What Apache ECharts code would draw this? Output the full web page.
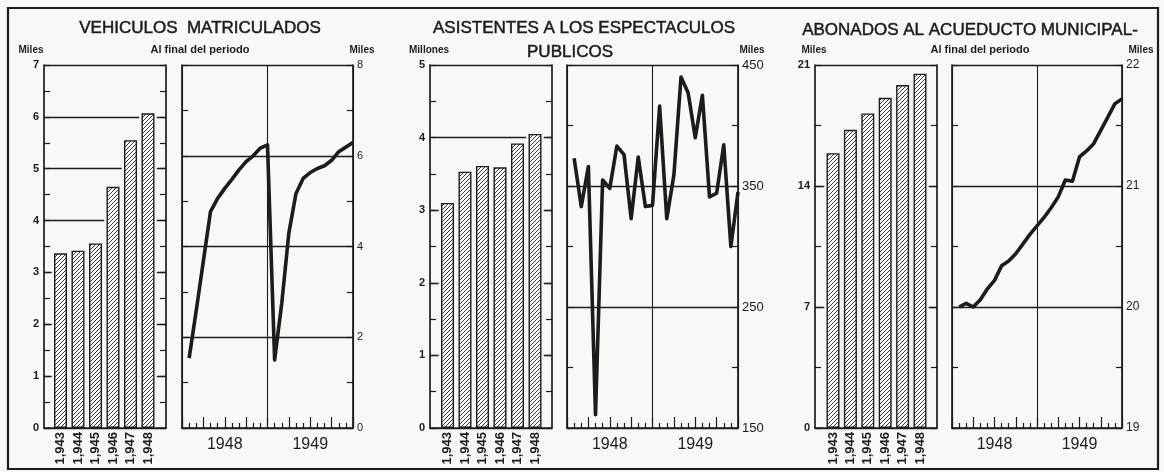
<!DOCTYPE html>
<html><head><meta charset="utf-8">
<script src="https://cdn.jsdelivr.net/npm/echarts@6/dist/echarts.min.js"></script>
<style>html,body{margin:0;padding:0;background:#f8f8f4}#c{width:1164px;height:472px}</style>
</head><body><div id="c"></div>
<script>
// ---------------- data ----------------
const years = ['1,943', '1,944', '1,945', '1,946', '1,947', '1,948'];
const periodYears = ['1948', '1949'];
const months = [1, 2, 3, 4, 5, 6, 7, 8, 9, 10, 11, 12, 13, 14, 15, 16, 17, 18, 19, 20, 21, 22, 23, 24];

const vehBars = [3.37, 3.42, 3.56, 4.65, 5.55, 6.07];
const vehMonthly = [1.54, 2.59, 3.68, 4.77, 5.06, 5.28, 5.48, 5.69, 5.87, 6.0, 6.17, 6.24,
                    1.5, 2.75, 4.3, 5.17, 5.5, 5.63, 5.72, 5.78, 5.9, 6.09, 6.19, 6.29];

const asiBars = [3.10, 3.53, 3.61, 3.59, 3.92, 4.05];
const asiMonthly = [373, 333, 366, 161, 355, 348, 383, 376, 323, 374, 333, 334,
                    416, 323, 359, 440, 427, 390, 425, 341, 344, 384, 300, 345];

const abonBars = [15.9, 17.25, 18.2, 19.1, 19.84, 20.5];
const abonMonthly = [20.0, 20.03, 20.0, 20.06, 20.15, 20.22, 20.34, 20.38, 20.44, 20.52, 20.6, 20.67,
                     20.74, 20.82, 20.91, 21.05, 21.04, 21.24, 21.29, 21.35, 21.46, 21.57, 21.68, 21.72];

// ---------------- style ----------------
const ink = '#1c1c1c';
const bg = '#f8f8f4';
const FF = '"Liberation Sans", Arial, sans-serif';

const hatch = (function () {
  const c = document.createElement('canvas');
  c.width = 4; c.height = 4;
  const g = c.getContext('2d');
  g.fillStyle = '#fbfbf8'; g.fillRect(0, 0, 4, 4);
  g.strokeStyle = '#3a3a3a'; g.lineWidth = 1;
  g.beginPath();
  g.moveTo(-1, 5); g.lineTo(5, -1);
  g.moveTo(-1, 1); g.lineTo(1, -1);
  g.moveTo(3, 5); g.lineTo(5, 3);
  g.stroke();
  return c;
})();

const TOP = 65, H = 363;
const panels = [
  { bars: vehBars, monthly: vehMonthly, frame: [44, 122], narrow: [51.75, 105], line: [182, 171],
    bY: { max: 7, interval: 1, fs: 11 },
    lY: { min: 0, max: 8, interval: 2, minor: true, colors: [ink], fs: 11, fmt: v => String(v) } },
  { bars: asiBars, monthly: asiMonthly, frame: [430, 122], narrow: [438.75, 105], line: [567, 171],
    bY: { max: 5, interval: 1, fs: 11 },
    lY: { min: 150, max: 450, interval: 50, minor: false, colors: [ink, 'rgba(0,0,0,0)'], fs: 13,
          fmt: v => ((v - 150) % 100 === 0 ? String(v) : '') } },
  { bars: abonBars, monthly: abonMonthly, frame: [815, 122], narrow: [824.3, 104.4], line: [952, 170],
    bY: { max: 21, interval: 7, fs: 11 },
    lY: { min: 19, max: 22, interval: 1, minor: true, colors: [ink], fs: 12, fmt: v => String(v) } }
];

const grid = [], xAxis = [], yAxis = [], series = [];
const axLine = { show: true, onZero: false, lineStyle: { color: ink, width: 1.7 } };
const tickStyle = { color: ink, width: 1.2 };

panels.forEach((p, k) => {
  const gi = 4 * k, xi = 5 * k, yi = 6 * k;
  grid.push({ left: p.frame[0], width: p.frame[1], top: TOP, height: H });
  grid.push({ left: p.narrow[0], width: p.narrow[1], top: TOP, height: H });
  grid.push({ left: p.narrow[0], width: p.narrow[1], top: TOP, height: H });
  grid.push({ left: p.line[0], width: p.line[1], top: TOP, height: H });

  // x axes
  xAxis.push({ gridIndex: gi, type: 'value', min: 0, max: 1, z: 5, axisLine: axLine,
    axisTick: { show: false }, axisLabel: { show: false }, splitLine: { show: false } });
  xAxis.push({ gridIndex: gi + 1, type: 'category', data: years, show: false });
  xAxis.push({ gridIndex: gi + 2, type: 'category', data: years,
    axisLine: { show: false }, axisTick: { show: false },
    axisLabel: { rotate: 90, interval: 0, fontSize: 13, fontWeight: 'bold', color: ink, margin: 4, fontFamily: FF } });
  xAxis.push({ gridIndex: gi + 3, type: 'value', min: 0, max: 24, interval: 3, axisLine: axLine,
    axisTick: { show: true, inside: true, length: 11, lineStyle: tickStyle },
    minorTick: { show: true, splitNumber: 3, length: 5, lineStyle: tickStyle },
    axisLabel: { fontSize: 16, color: ink, margin: 9, fontFamily: FF,
      formatter: v => (v % 12 === 6 ? periodYears[(v - 6) / 12] : '') },
    splitLine: { show: false } });
  xAxis.push({ gridIndex: gi + 3, type: 'value', min: 0, max: 24, interval: 12, position: 'bottom',
    axisLine: { show: false }, axisTick: { show: false }, axisLabel: { show: false },
    splitLine: { show: true, lineStyle: { color: ink, width: 1.1 } } });

  // y axes
  const bY = p.bY, lY = p.lY;
  const yLabel = { fontSize: bY.fs, color: ink, margin: 5, fontFamily: FF, fontWeight: 'bold' };
  yAxis.push({ gridIndex: gi, type: 'value', min: 0, max: bY.max, interval: bY.interval, position: 'left',
    axisLine: axLine, axisTick: { show: true, inside: true, length: 6, lineStyle: tickStyle },
    minorTick: { show: true, splitNumber: 2, length: 6, lineStyle: tickStyle },
    axisLabel: yLabel, splitLine: { show: true, lineStyle: { color: ink, width: 1.3 } } });
  yAxis.push({ gridIndex: gi, type: 'value', min: 0, max: bY.max, interval: bY.interval, position: 'right',
    axisLine: axLine, axisTick: { show: true, inside: true, length: 6, lineStyle: tickStyle },
    minorTick: { show: true, splitNumber: 2, length: 6, lineStyle: tickStyle },
    axisLabel: { show: false }, splitLine: { show: false } });
  yAxis.push({ gridIndex: gi + 1, type: 'value', min: 0, max: bY.max, show: false });
  yAxis.push({ gridIndex: gi + 2, type: 'value', min: 0, max: bY.max, show: false });
  const lineTick = { show: true, inside: true, length: 6, lineStyle: tickStyle };
  const lineMinor = { show: lY.minor, splitNumber: 2, length: 6, lineStyle: tickStyle };
  yAxis.push({ gridIndex: gi + 3, type: 'value', min: lY.min, max: lY.max, interval: lY.interval, position: 'left',
    axisLine: axLine, axisTick: lineTick, minorTick: lineMinor, axisLabel: { show: false },
    splitLine: { show: true, lineStyle: { color: lY.colors, width: 1.3 } } });
  yAxis.push({ gridIndex: gi + 3, type: 'value', min: lY.min, max: lY.max, interval: lY.interval, position: 'right',
    axisLine: axLine, axisTick: lineTick, minorTick: lineMinor,
    axisLabel: { fontSize: lY.fs, color: ink, margin: 4, fontFamily: FF, formatter: lY.fmt },
    splitLine: { show: false } });

  // series
  series.push({ type: 'bar', xAxisIndex: xi + 1, yAxisIndex: yi + 2, data: p.bars, barWidth: '100%',
    itemStyle: { color: bg }, silent: true, z: 1 });
  series.push({ type: 'bar', xAxisIndex: xi + 2, yAxisIndex: yi + 3, data: p.bars, barWidth: 13,
    itemStyle: { color: { image: hatch, repeat: 'repeat' }, borderColor: ink, borderWidth: 1.4 }, z: 3 });
  series.push({ type: 'line', xAxisIndex: xi + 3, yAxisIndex: yi + 5,
    data: p.monthly.map((v, i) => [months[i], v]), showSymbol: false, symbol: 'none',
    lineStyle: { color: ink, width: 3.6, join: 'round' }, z: 4 });
});

function txt(t, x, y, size, weight, strokeW) {
  const st = { text: t, fill: ink, font: (weight || 'normal') + ' ' + size + 'px ' + FF,
               align: 'center', verticalAlign: 'middle', textAlign: 'center', textVerticalAlign: 'middle' };
  if (strokeW) { st.stroke = ink; st.lineWidth = strokeW; }
  return { type: 'text', x: x, y: y, silent: true, style: st };
}

const graphic = [
  { type: 'rect', shape: { x: 8, y: 8, width: 1150, height: 461 }, silent: true,
    style: { fill: 'none', stroke: ink, lineWidth: 2.2 } },
  txt('VEHICULOS  MATRICULADOS', 200, 28, 17, 'normal', 0.5),
  txt('ASISTENTES A LOS ESPECTACULOS', 584, 28, 17, 'normal', 0.5),
  txt('PUBLICOS', 570, 52, 17, 'normal', 0.5),
  txt('ABONADOS AL ACUEDUCTO MUNICIPAL-', 970, 30, 17, 'normal', 0.5),
  txt('Al final del periodo', 200, 50, 11, 'bold'),
  txt('Al final del periodo', 980, 50, 11, 'bold'),
  txt('Miles', 31, 50, 10, 'bold'),
  txt('Miles', 362, 50, 10, 'bold'),
  txt('Millones', 429, 50, 10, 'bold'),
  txt('Miles', 752, 50, 10, 'bold'),
  txt('Miles', 814, 50, 10, 'bold'),
  txt('Miles', 1141, 50, 10, 'bold')
];

const chart = echarts.init(document.getElementById('c'));
chart.setOption({ backgroundColor: bg, animation: false, grid, xAxis, yAxis, series, graphic });
</script></body></html>
